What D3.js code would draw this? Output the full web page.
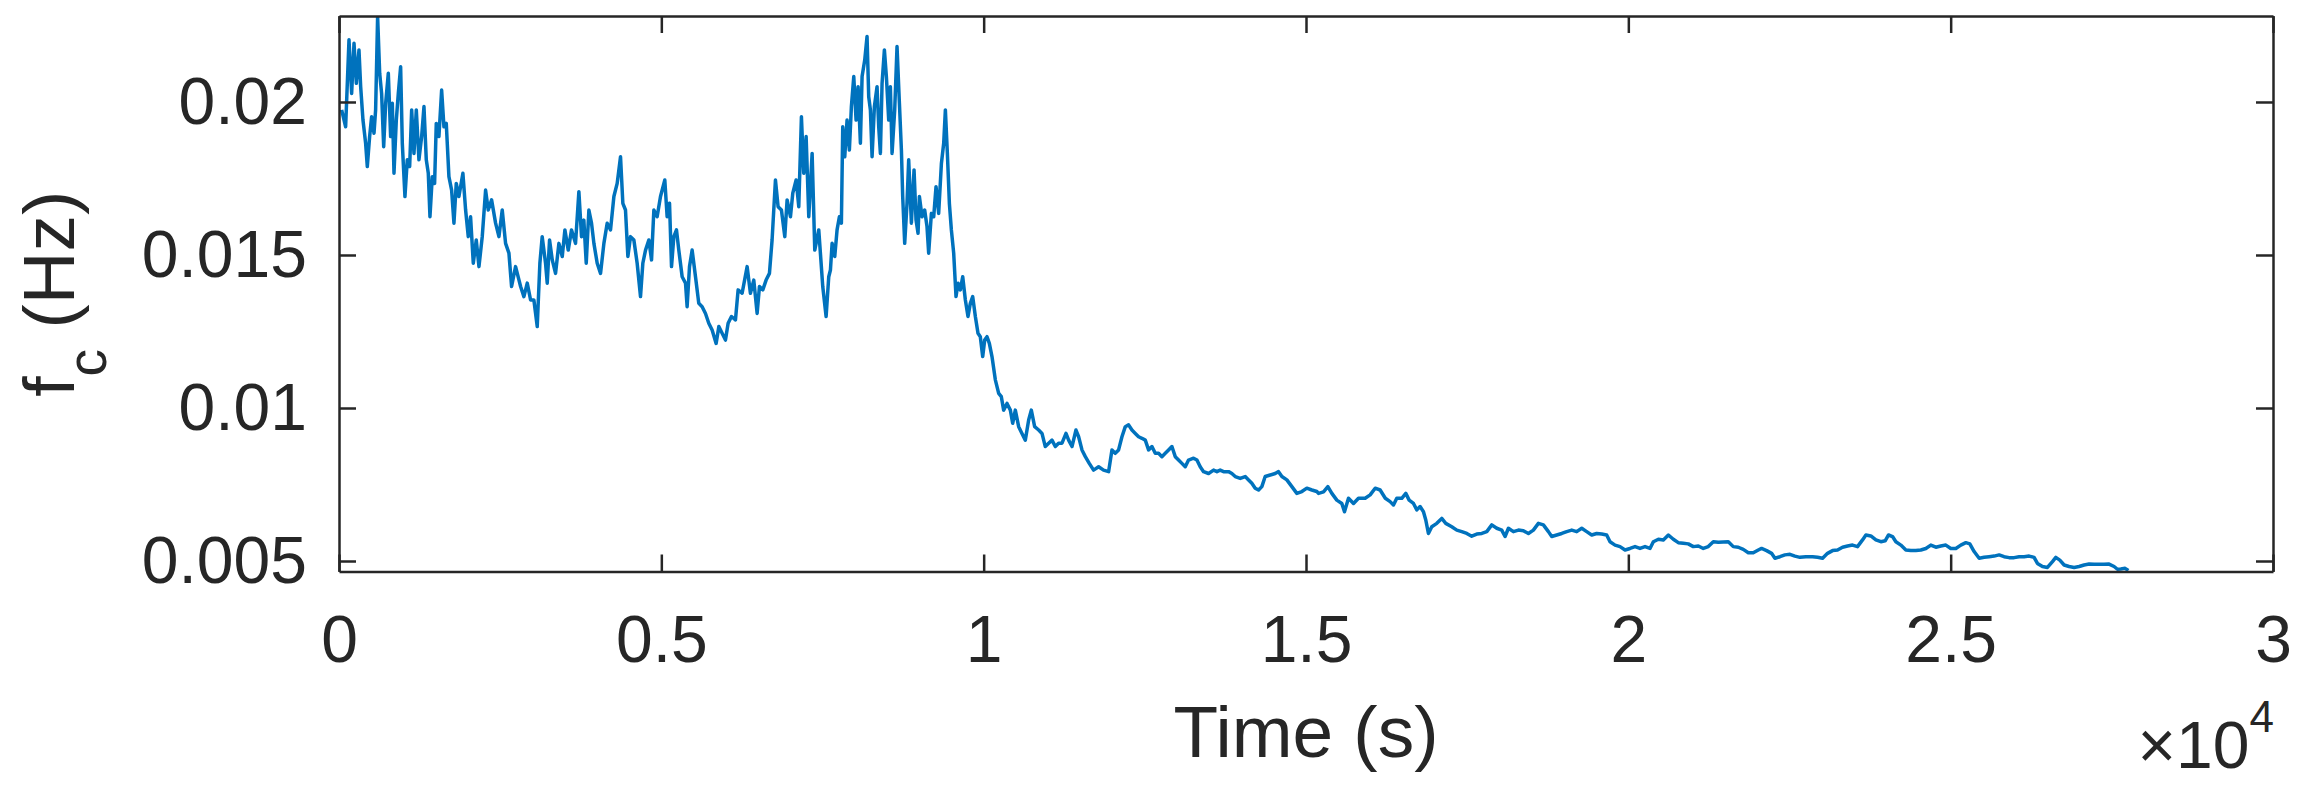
<!DOCTYPE html>
<html>
<head>
<meta charset="utf-8">
<script src="https://cdn.jsdelivr.net/npm/d3@7"></script>
<style>
  html, body { margin: 0; padding: 0; background: #fff; }
  svg text { font-family: "Liberation Sans", Arial, Helvetica, sans-serif; fill: #262626; }
</style>
</head>
<body>
<svg id="chart"></svg>
<script>
// Time samples (s)
const timeS = [
  41, 103, 155, 196, 233, 269, 310, 336, 372, 413, 439, 475, 506, 543, 568, 599, 631, 661, 693, 724,
  765, 801, 827, 853, 889, 920, 956, 982, 1023, 1059, 1096, 1127, 1163, 1199, 1240, 1282, 1318, 1354, 1385, 1411,
  1447, 1483, 1509, 1550, 1592, 1628, 1664, 1705, 1747, 1783, 1819, 1860, 1922, 1964, 2005, 2041, 2083, 2129, 2171, 2222,
  2274, 2315, 2367, 2429, 2481, 2532, 2584, 2636, 2677, 2739, 2817, 2868, 2920, 2972, 3023, 3075, 3116, 3152, 3204, 3230,
  3266, 3308, 3359, 3411, 3463, 3504, 3556, 3607, 3669, 3721, 3762, 3798, 3835, 3876, 3917, 3954, 4005, 4057, 4109, 4160,
  4212, 4264, 4315, 4367, 4403, 4444, 4481, 4522, 4574, 4625, 4677, 4713, 4755, 4806, 4848, 4884, 4935, 4987, 5054, 5090,
  5127, 5158, 5194, 5235, 5271, 5323, 5375, 5400, 5437, 5478, 5530, 5581, 5633, 5685, 5736, 5788, 5850, 5892, 5943, 5995,
  6036, 6088, 6150, 6191, 6253, 6331, 6382, 6434, 6486, 6522, 6574, 6625, 6677, 6718, 6770, 6811, 6863, 6915, 6951, 7003,
  7039, 7091, 7132, 7173, 7209, 7246, 7287, 7339, 7380, 7442, 7504, 7556, 7597,
  7623, 7649, 7690, 7726, 7762, 7793, 7814, 7845, 7881, 7917, 7948, 7985, 8021, 8052, 8088, 8114, 8155, 8191, 8217, 8243,
  8269, 8305, 8346, 8372, 8398, 8424, 8460, 8491, 8527, 8553, 8579, 8620, 8656, 8693, 8724, 8744, 8775, 8811, 8837, 8879,
  8920, 8951, 8982, 9003, 9044, 9085, 9121, 9147, 9189, 9225, 9261, 9302, 9344, 9380, 9406, 9437, 9468, 9499, 9535, 9571,
  9602, 9638, 9675, 9716, 9757, 9793, 9830, 9871, 9912, 9948, 9985, 10016, 10052, 10088, 10129, 10181, 10233, 10274, 10310, 10362,
  10414, 10450, 10491, 10543, 10594, 10646, 10698, 10739, 10791, 10853, 10905, 10956, 11008, 11060, 11111, 11163, 11215, 11277, 11318, 11370,
  11432, 11473, 11525, 11577, 11638, 11705, 11783, 11860, 11938, 11990, 12041, 12093, 12145, 12197, 12248, 12300, 12352, 12403, 12455, 12507,
  12558, 12610, 12662, 12713, 12765, 12817, 12868, 12920, 12972, 13023, 13075, 13127, 13178, 13256, 13308, 13359, 13411, 13489, 13566, 13618,
  13669, 13721, 13799, 13850, 13902, 13980, 14057, 14109, 14160, 14212, 14264, 14315, 14367, 14445, 14522, 14574, 14626, 14703, 14781, 14858,
  14936, 15013, 15091, 15168,
  15194, 15272, 15339, 15401, 15478, 15556, 15597, 15659, 15737, 15814, 15918, 15995, 16073, 16150, 16230, 16305, 16357, 16408, 16486, 16548,
  16600, 16667, 16719, 16770, 16822, 16858, 16899, 16951, 17029, 17106, 17168, 17261, 17339, 17416, 17494, 17571, 17649, 17727, 17804, 17882,
  17959, 18036, 18088, 18140, 18217, 18295, 18372, 18450, 18527, 18605, 18682, 18760, 18812, 18889, 18967, 19044, 19122, 19199, 19277, 19354,
  19432, 19509, 19587, 19664, 19716, 19794, 19871, 19949, 20026, 20104, 20181, 20259, 20336, 20388, 20466, 20543, 20621, 20698, 20775, 20853,
  20930, 21008, 21086, 21163, 21240, 21318, 21396, 21473, 21551, 21628, 21706, 21783, 21861, 21938, 22016, 22067, 22145, 22222, 22274, 22352,
  22429, 22507, 22584, 22662,
  22754, 22858, 22935, 23013, 23090, 23168, 23245, 23323, 23400, 23478, 23555, 23633, 23685, 23762, 23840, 23917, 23984, 24036, 24098, 24150,
  24227, 24305, 24382, 24460, 24537, 24615, 24692, 24770, 24847, 24925, 25002, 25080, 25157, 25235, 25297, 25364, 25442, 25519, 25597, 25674,
  25752, 25829, 25907, 25984, 26062, 26139, 26217, 26294, 26346, 26424, 26501, 26579, 26631, 26693, 26760, 26837, 26915, 26992, 27070, 27147,
  27225, 27302, 27380, 27457, 27535, 27587, 27638, 27706, 27757
];

// Cutoff frequency f_c, in mHz (converted to Hz below)
const fcMilliHz = [
  19.74, 19.19, 22.03, 20.28, 21.92, 20.61, 21.70, 20.50, 19.41, 18.65, 17.89, 18.87, 19.52, 18.98, 19.74, 22.79, 20.94, 20.28, 18.54, 19.96,
  20.94, 18.87, 19.96, 17.67, 19.41, 20.28, 21.15, 18.65, 16.91, 18.11, 17.89, 19.74, 18.32, 19.74, 18.11, 18.87, 19.85, 18.11, 17.67, 16.25,
  17.56, 17.34, 19.30, 18.87, 20.39, 19.19, 19.30, 17.56, 17.12, 16.04, 17.34, 16.91, 17.67, 16.47, 15.60, 16.25, 14.73, 15.49, 14.62, 15.60,
  17.12, 16.47, 16.80, 16.04, 15.60, 16.47, 15.38, 15.06, 13.97, 14.62, 13.97, 13.64, 14.08, 13.53, 13.53, 12.66, 14.73, 15.60, 14.73, 14.08,
  15.49, 14.84, 14.40, 15.38, 14.95, 15.82, 15.16, 15.82, 15.38, 17.07, 15.60, 16.14, 14.73, 16.47, 16.04, 15.38, 14.73, 14.40, 15.38, 16.04,
  15.82, 16.91, 17.34, 18.21, 16.69, 16.47, 14.95, 15.60, 15.49, 14.73, 13.64, 14.73, 15.16, 15.49, 14.84, 16.47, 16.25, 16.91, 17.45, 16.25,
  16.69, 14.62, 15.60, 15.82, 15.16, 14.29, 14.08, 13.31, 14.62, 15.16, 14.29, 13.42, 13.31, 13.09, 12.77, 12.55, 12.11, 12.66, 12.44, 12.22,
  12.77, 12.99, 12.88, 13.86, 13.75, 14.62, 13.75, 14.18, 13.09, 13.97, 13.86, 14.18, 14.40, 15.49, 17.45, 16.58, 16.47, 15.60, 16.80, 16.25,
  17.02, 17.45, 16.58, 19.52, 17.67, 18.87, 16.25, 18.32, 15.16, 15.82, 13.97, 12.99, 14.29,
  14.51, 15.38, 14.95, 15.82, 16.25, 16.04, 19.19, 18.21, 19.41, 18.43, 19.85, 20.83, 19.41, 20.50, 18.65, 20.83, 21.37, 22.14, 20.17, 19.74,
  18.21, 19.85, 20.50, 19.19, 18.32, 20.61, 21.70, 20.83, 19.41, 20.50, 18.32, 19.74, 21.81, 19.96, 18.43, 16.91, 15.38, 16.69, 18.11, 16.04,
  17.78, 16.14, 15.71, 16.91, 16.25, 16.47, 15.93, 15.06, 16.36, 16.25, 17.23, 16.36, 17.98, 18.65, 19.74, 18.32, 16.69, 15.82, 15.06, 13.64,
  14.08, 13.86, 14.29, 13.53, 12.99, 13.42, 13.64, 12.99, 12.44, 12.33, 11.68, 12.22, 12.33, 12.11, 11.68, 10.92, 10.48, 10.37, 9.93, 10.15,
  9.93, 9.50, 9.93, 9.39, 9.17, 8.95, 9.61, 9.93, 9.39, 9.28, 9.17, 8.74, 8.85, 8.95, 8.74, 8.85, 8.85, 9.17, 8.95, 8.74,
  9.28, 9.06, 8.63, 8.41, 8.19, 7.97, 8.08, 7.97, 7.92, 8.63, 8.52, 8.63, 9.06, 9.39, 9.45, 9.28, 9.17, 9.06, 9.01, 8.95,
  8.63, 8.74, 8.52, 8.52, 8.41, 8.52, 8.63, 8.74, 8.41, 8.30, 8.19, 8.08, 8.30, 8.36, 8.30, 8.08, 7.92, 7.86, 7.97, 7.92,
  7.97, 7.92, 7.92, 7.86, 7.76, 7.70, 7.76, 7.65, 7.54, 7.38, 7.32, 7.43, 7.76, 7.81, 7.86, 7.92, 7.76, 7.65, 7.43, 7.21,
  7.27, 7.38, 7.32, 7.27,
  7.21, 7.26, 7.43, 7.21, 6.99, 6.88, 6.61, 7.05, 6.88, 7.05, 7.05, 7.16, 7.38, 7.32, 7.05, 6.94, 6.83, 7.05, 7.05, 7.21,
  6.99, 6.88, 6.67, 6.78, 6.61, 6.34, 5.90, 6.12, 6.23, 6.39, 6.23, 6.12, 6.01, 5.96, 5.90, 5.81, 5.88, 5.90, 5.96, 6.18,
  6.07, 6.01, 5.80, 6.07, 5.96, 6.01, 5.99, 5.90, 6.01, 6.23, 6.18, 5.96, 5.80, 5.85, 5.90, 5.96, 6.01, 5.96, 6.07, 5.96,
  5.85, 5.90, 5.88, 5.85, 5.63, 5.52, 5.47, 5.36, 5.41, 5.47, 5.41, 5.47, 5.41, 5.63, 5.71, 5.69, 5.85, 5.71, 5.60, 5.58,
  5.56, 5.47, 5.49, 5.41, 5.47, 5.63, 5.61, 5.62, 5.63, 5.47, 5.45, 5.38, 5.27, 5.27, 5.36, 5.41, 5.34, 5.25, 5.09, 5.14,
  5.20, 5.22, 5.16, 5.12,
  5.14, 5.14, 5.12, 5.09, 5.25, 5.34, 5.36, 5.45, 5.49, 5.52, 5.47, 5.69, 5.85, 5.82, 5.69, 5.63, 5.66, 5.85, 5.80, 5.63,
  5.52, 5.36, 5.34, 5.34, 5.36, 5.41, 5.52, 5.45, 5.49, 5.52, 5.41, 5.41, 5.52, 5.60, 5.56, 5.31, 5.09, 5.12, 5.14, 5.16,
  5.20, 5.14, 5.11, 5.11, 5.14, 5.14, 5.16, 5.12, 4.92, 4.82, 4.79, 4.98, 5.12, 5.03, 4.87, 4.82, 4.79, 4.82, 4.87, 4.90,
  4.89, 4.89, 4.89, 4.90, 4.82, 4.73, 4.74, 4.76, 4.69
];

const xTicks = [0, 5000, 10000, 15000, 20000, 25000, 30000];
const xTickLabels = ["0", "0.5", "1", "1.5", "2", "2.5", "3"];
const yTicks = [0.005, 0.01, 0.015, 0.02];
const yTickLabels = ["0.005", "0.01", "0.015", "0.02"];

function drawChart() {
    // Graph constants
    const width = 2300;
    const height = 795;
    const margin = { top: 16, right: 27, bottom: 223.5, left: 339 };
    const tickLen = 17;
    const data = timeS.map((t, i) => ({ t: t, f: fcMilliHz[i] / 1000 }));

    const xScale = d3.scaleLinear()
        .domain([0, 30000])
        .range([margin.left, width - margin.right]);
    const yScale = d3.scaleLinear()
        .domain([0.004657, 0.02281])
        .range([height - margin.bottom, margin.top]);

    const svg = d3.select("#chart")
        .attr("width", width)
        .attr("height", height);

    svg.append("defs").append("clipPath")
        .attr("id", "plot-clip")
        .append("rect")
        .attr("x", margin.left)
        .attr("y", margin.top)
        .attr("width", width - margin.left - margin.right)
        .attr("height", height - margin.top - margin.bottom);

    // Line
    const line = d3.line()
        .x(d => xScale(d.t))
        .y(d => yScale(d.f));
    svg.append("path")
        .datum(data)
        .attr("clip-path", "url(#plot-clip)")
        .attr("fill", "none")
        .attr("stroke", "#0072BD")
        .attr("stroke-width", 3.5)
        .attr("stroke-linejoin", "round")
        .attr("d", line);

    // Axes (ticks pointing inwards, box on all sides)
    const xIdx = d => xTicks.indexOf(d);
    const yIdx = d => yTicks.indexOf(d);
    const bottomAxis = d3.axisBottom(xScale)
        .tickValues(xTicks)
        .tickFormat(d => xTickLabels[xIdx(d)])
        .tickSizeInner(-tickLen)
        .tickSizeOuter(0)
        .tickPadding(44);
    const topAxis = d3.axisTop(xScale)
        .tickValues(xTicks)
        .tickFormat("")
        .tickSizeInner(-tickLen)
        .tickSizeOuter(0);
    const leftAxis = d3.axisLeft(yScale)
        .tickValues(yTicks)
        .tickFormat(d => yTickLabels[yIdx(d)])
        .tickSizeInner(-tickLen)
        .tickSizeOuter(0)
        .tickPadding(32);
    const rightAxis = d3.axisRight(yScale)
        .tickValues(yTicks)
        .tickFormat("")
        .tickSizeInner(-tickLen)
        .tickSizeOuter(0);

    const axes = [
        [bottomAxis, `translate(0,${height - margin.bottom})`],
        [topAxis, `translate(0,${margin.top})`],
        [leftAxis, `translate(${margin.left},0)`],
        [rightAxis, `translate(${width - margin.right},0)`]
    ];
    axes.forEach(([ax, tr]) => {
        const g = svg.append("g").attr("transform", tr).call(ax);
        g.select(".domain").attr("stroke", "#262626").attr("stroke-width", 2.5);
        g.selectAll(".tick line").attr("stroke", "#262626").attr("stroke-width", 2.5);
        g.selectAll(".tick text")
            .style("font-size", "66px")
            .style("fill", "#262626");
    });

    // Axis labels
    svg.append("text")
        .attr("x", (margin.left + width - margin.right) / 2)
        .attr("y", 757)
        .attr("text-anchor", "middle")
        .style("font-size", "73px")
        .text("Time (s)");

    const yLabel = svg.append("text")
        .attr("transform", `translate(74,${(margin.top + height - margin.bottom) / 2}) rotate(-90)`)
        .attr("text-anchor", "middle")
        .style("font-size", "73px");
    yLabel.append("tspan").text("f");
    yLabel.append("tspan").attr("dy", 32).style("font-size", "55px").text("c");
    yLabel.append("tspan").attr("dy", -32).text(" (Hz)");

    // Exponent
    const expo = svg.append("text")
        .attr("x", 2274)
        .attr("y", 768)
        .attr("text-anchor", "end")
        .style("font-size", "66px");
    expo.append("tspan").style("font-weight", "300").text("\u00d7");
    expo.append("tspan").text("10");
    expo.append("tspan").attr("dy", -36).style("font-size", "44px").text("4");
}

whenLoaded = (action) => {
    if (document.readyState === "loading") {
        document.addEventListener("DOMContentLoaded", action);
    } else {
        action();
    }
};
whenLoaded(drawChart);
</script>
</body>
</html>
